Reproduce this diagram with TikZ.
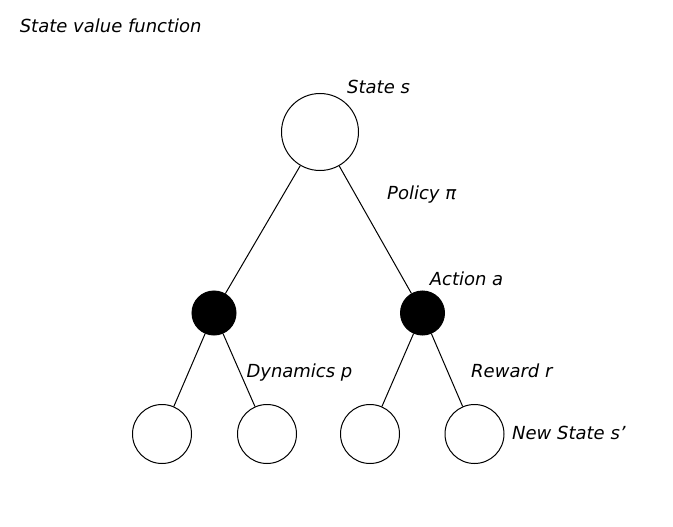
\documentclass[tikz,border=0pt]{standalone}
\usepackage{fontspec}
\setmainfont{DejaVu Sans}

\begin{document}
\begin{tikzpicture}[x=1pt,y=-1pt,line width=1pt,
  state/.style={draw,circle,inner sep=0pt,minimum size=59pt},
  root/.style={draw,circle,inner sep=0pt,minimum size=77pt},
  act/.style={draw,circle,fill=black,inner sep=0pt,minimum size=44pt},
  lbl/.style={anchor=base west,inner sep=0pt,font=\itshape\fontsize{18}{22}\selectfont}]
\useasboundingbox (0,0) rectangle (673,527);
%titel
\node [lbl] (titel) at (19.3,32.3) {State value function};
%tilstande
\node [root] (s) at (320,132) {};
\node [act] (aL) at (214,313) {};
\node [act] (aR) at (422.5,313) {};
\node [state] (s1) at (162,434) {};
\node [state] (s2) at (267,434) {};
\node [state] (s3) at (370,434) {};
\node [state] (s4) at (474.5,434) {};
%kanter
\draw (s)--(aL);
\draw (s)--(aR);
\draw (aL)--(s1);
\draw (aL)--(s2);
\draw (aR)--(s3);
\draw (aR)--(s4);
%tekst
\node [lbl] (ls) at (346.7,94) {State s};
\node [lbl] (lpi) at (386.7,200) {Policy π};
\node [lbl] (la) at (429.3,285.7) {Action a};
\node [lbl] (lp) at (246,377.3) {Dynamics p};
\node [lbl] (lr) at (470.7,377) {Reward r};
\node [lbl] (lnew) at (511.7,439.7) {New State s’};
\end{tikzpicture}
\end{document}
